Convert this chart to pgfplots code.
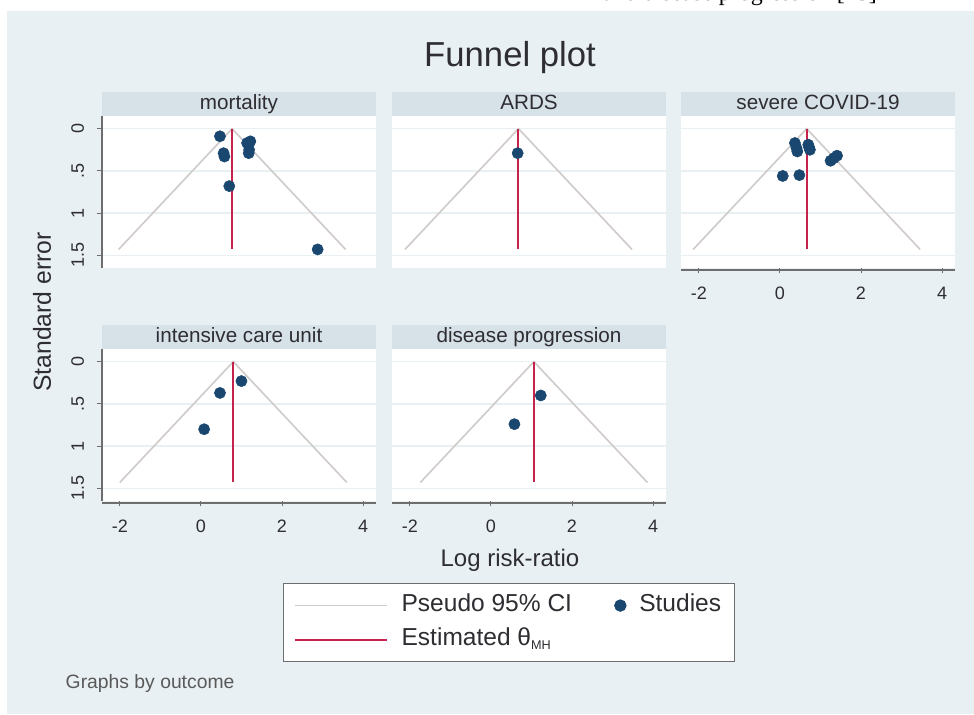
\documentclass[border=0pt]{standalone}
\usepackage{pgfplots}
\pgfplotsset{compat=1.18}
\usepackage{fontspec}
\setmainfont{Liberation Sans}
\newfontfamily\seriffont{Liberation Serif}
\definecolor{bgc}{RGB}{233,240,243}
\definecolor{hdr}{RGB}{215,226,232}
\definecolor{gridc}{RGB}{233,240,243}
\definecolor{navy}{RGB}{26,71,111}
\definecolor{cran}{RGB}{197,35,75}
\definecolor{cic}{RGB}{207,203,201}
\definecolor{axc}{RGB}{110,110,110}
\definecolor{txt}{RGB}{45,45,50}
\pgfplotsset{
  panel/.style={
    scale only axis, width=205.5pt, height=114pt,
    anchor=south west,
    xmin=-2.44, xmax=4.32, ymin=-0.15, ymax=1.65, y dir=reverse,
    axis background/.style={fill=white},
    axis line style={draw=none},
    xtick={-2,0,2,4}, xticklabels={-2,0,2,4},
    ytick={0,0.5,1,1.5}, yticklabels={0,.5,1,1.5},
    ymajorgrids, major grid style={gridc, line width=1pt},
    tick style={axc, line width=0.7pt},
    tick align=outside, major tick length=4pt,
    xtick pos=bottom, ytick pos=left,
    /pgf/number format/assume math mode=true,
    x tick label style={font=\fontsize{13.5}{15}\selectfont, text=txt, yshift=-6.5pt},
    y tick label style={font=\fontsize{13.5}{15}\selectfont, text=txt, xshift=-6pt, rotate=90, anchor=south},
    every axis title shift=0pt,
    title style={at={(0.5,1)}, anchor=south, fill=hdr, minimum width=205.5pt,
      minimum height=18pt, inner sep=0pt, text=txt, text height=11.5pt, text depth=3.5pt,
      font=\fontsize{15.5}{18}\selectfont, yshift=0pt},
  },
  noy/.style={yticklabels={}, ytick style={draw=none}},
  nox/.style={xticklabels={}, xtick style={draw=none}},
  ci/.style={cic, line width=1.2pt, no marks},
  est/.style={cran, line width=1.5pt, no marks},
  stud/.style={only marks, mark=*, mark size=4.2pt, mark options={fill=navy, draw=navy}},
  lineleg/.style={legend image code/.code={\draw[##1] (0pt,0pt) -- (69pt,0pt);}},
}
\begin{document}
\begin{tikzpicture}[x=0.75pt,y=-0.75pt]
\path[use as bounding box] (0,0) rectangle (974,714);
\fill[white] (0,0) rectangle (974,714);
\fill[bgc] (7,11) rectangle (974,714);
\begin{scope}
\clip (0,0) rectangle (974,11);
\node[anchor=base east, inner sep=0pt, font=\seriffont\fontsize{18}{20}\selectfont] at (877,0.5) {and disease progression [15]};
\end{scope}
\node[font=\fontsize{26}{30}\selectfont, text=txt] at (510,58) {Funnel plot};
\node[font=\fontsize{18.5}{21}\selectfont, text=txt, rotate=90] at (42,312) {Standard error};
\node[font=\fontsize{18}{20}\selectfont, text=txt] at (510,560) {Log risk-ratio};
\node[font=\fontsize{14.5}{16}\selectfont, text=black!65, anchor=west] at (61,683) {Graphs by outcome};

% mortality
\begin{axis}[panel, nox, name=p1, at={(76.5pt,-201pt)}, title={mortality},
  legend columns=2, transpose legend, legend cell align=left,
  legend style={at={(0.6606,-2.072)}, anchor=north west, draw=axc, line width=0.9pt,
    fill=white, font=\fontsize{18.4}{21}\selectfont, text=txt, inner xsep=8pt, inner ysep=5.5pt,
    row sep=3.5pt, nodes={inner sep=2pt, text height=13.5pt, text depth=4.5pt},
    /tikz/every odd column/.append style={column sep=8pt},
    /tikz/every even column/.append style={column sep=30pt}}]
\addplot[ci, lineleg] coordinates {(-2.03,1.43) (0.77,0) (3.57,1.43)};
\addlegendentry{Pseudo 95\% CI}
\addplot[est, lineleg] coordinates {(0.77,0) (0.77,1.43)};
\addlegendentry{Estimated θ\raisebox{-0.3ex}{\fontsize{9.5}{10}\selectfont MH}}
\addplot[stud] coordinates {(0.47,0.09) (0.56,0.29) (0.58,0.33) (1.14,0.17) (1.22,0.15) (1.19,0.25) (1.18,0.29) (0.70,0.68) (2.88,1.43)};
\addlegendentry{Studies}
\end{axis}
\draw[axc, line width=0.8pt] (p1.north west) -- (p1.south west);

% ARDS
\begin{axis}[panel, nox, noy, name=p2, at={(294pt,-201pt)}, title={ARDS}]
\addplot[ci] coordinates {(-2.12,1.43) (0.68,0) (3.48,1.43)};
\addplot[est] coordinates {(0.68,0) (0.68,1.43)};
\addplot[stud] coordinates {(0.66,0.29)};
\end{axis}

% severe COVID-19
\begin{axis}[panel, noy, name=p3, at={(510.75pt,-201pt)}, title={severe COVID-19}]
\addplot[ci] coordinates {(-2.14,1.43) (0.66,0) (3.46,1.43)};
\addplot[est] coordinates {(0.66,0) (0.66,1.43)};
\addplot[stud] coordinates {(0.37,0.17) (0.41,0.23) (0.43,0.27) (0.70,0.19) (0.74,0.25) (0.72,0.22) (1.41,0.32) (1.33,0.35) (1.25,0.38) (0.07,0.56) (0.48,0.55)};
\end{axis}
\draw[axc, line width=0.8pt] ([yshift=-1.5pt]p3.south west) -- ([yshift=-1.5pt]p3.south east);

% intensive care unit
\begin{axis}[panel, name=p4, at={(76.5pt,-375.75pt)}, title={intensive care unit}]
\addplot[ci] coordinates {(-2.00,1.43) (0.80,0) (3.60,1.43)};
\addplot[est] coordinates {(0.80,0) (0.80,1.43)};
\addplot[stud] coordinates {(1.00,0.23) (0.47,0.37) (0.08,0.80)};
\end{axis}
\draw[axc, line width=0.8pt] (p4.north west) -- (p4.south west);
\draw[axc, line width=0.8pt] ([yshift=-1.5pt]p4.south west) -- ([yshift=-1.5pt]p4.south east);

% disease progression
\begin{axis}[panel, noy, name=p5, at={(294pt,-375.75pt)}, title={disease progression}]
\addplot[ci] coordinates {(-1.74,1.43) (1.06,0) (3.86,1.43)};
\addplot[est] coordinates {(1.06,0) (1.06,1.43)};
\addplot[stud] coordinates {(1.23,0.40) (0.58,0.74)};
\end{axis}
\draw[axc, line width=0.8pt] ([yshift=-1.5pt]p5.south west) -- ([yshift=-1.5pt]p5.south east);
\end{tikzpicture}
\end{document}
